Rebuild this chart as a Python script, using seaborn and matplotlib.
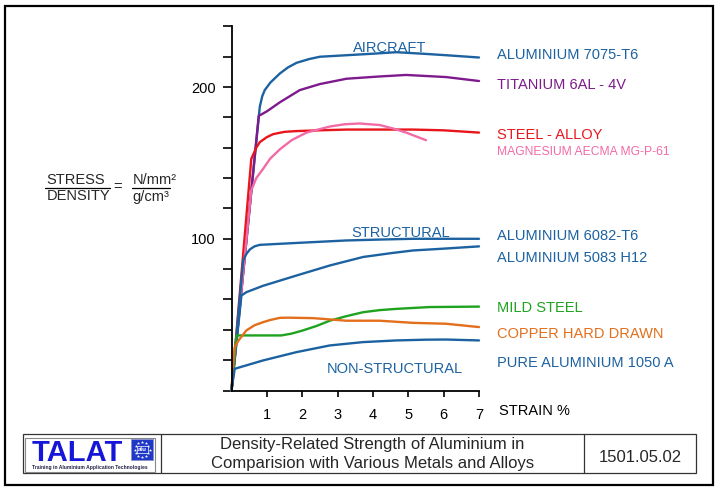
import numpy as np
import pandas as pd
import matplotlib
matplotlib.use("Agg")
import matplotlib.pyplot as plt
from matplotlib.patches import Rectangle
import seaborn as sns

# ---------------- data ----------------
al7075_x = [0, 0.8, 0.87, 0.94, 1.1, 1.37, 1.6, 1.84, 2.2, 2.5, 3.25, 4.0, 4.66, 5.4, 6.07, 7.0]
al7075_y = [0, 187, 194, 198, 203, 209, 213, 216, 218.5, 220, 221, 222, 223, 222, 221, 219.5]

ti_x = [0, 0.77, 1.0, 1.37, 1.93, 2.5, 3.25, 4.19, 4.94, 6.07, 7.0]
ti_y = [0, 181, 184, 190, 198, 202, 205.5, 207, 208, 206.6, 204]

steel_x = [0, 0.56, 0.7, 0.8, 1.0, 1.18, 1.5, 1.84, 2.5, 3.25, 4.2, 5.13, 6.0, 7.0]
steel_y = [0, 152.7, 160, 163.7, 167, 169, 170.5, 171, 171.5, 172, 172, 172, 171.5, 170]

mg_x = [0, 0.56, 0.7, 0.89, 1.1, 1.37, 1.7, 2.12, 2.78, 3.2, 3.62, 4.19, 4.6, 4.94, 5.5]
mg_y = [0, 132, 140, 146, 153, 159, 165, 170, 174, 175.5, 176, 175, 172.5, 170, 165]

al6082_x = [0, 0.33, 0.42, 0.52, 0.65, 0.8, 1.37, 2.3, 3.25, 4.2, 5.13, 6.0, 7.0]
al6082_y = [0, 85.7, 90, 93, 95, 96, 96.7, 97.8, 98.9, 99.5, 100, 100, 100]

al5083_x = [0, 0.28, 0.42, 0.89, 1.84, 2.78, 3.72, 4.5, 5.13, 6.0, 7.0]
al5083_y = [0, 62.6, 64.8, 69, 75.8, 82.4, 88, 90.5, 92.3, 93.5, 95]

mild_x = [0, 0.14, 1.41, 1.7, 2.02, 2.4, 2.78, 3.25, 3.72, 4.2, 4.66, 5.6, 7.0]
mild_y = [0, 36.3, 36.3, 37.5, 39.6, 42.5, 46, 49, 51.6, 53, 53.8, 55, 55.3]

cu_x = [0, 0.04, 0.09, 0.2, 0.42, 0.65, 0.89, 1.1, 1.37, 1.6, 2.31, 3.25, 4.19, 5.13, 6.07, 7.0]
cu_y = [0, 15, 28.6, 33, 39.6, 43, 45, 46.5, 47.9, 48, 47.7, 46, 46, 44.6, 44, 41.8]

al1050_x = [0, 0.09, 0.89, 1.84, 2.78, 3.72, 4.66, 5.5, 6.07, 7.0]
al1050_y = [0, 14.3, 19.8, 25.3, 29.7, 31.9, 33, 33.5, 33.6, 33]

series_names = ["ALUMINIUM 7075-T6", "TITANIUM 6AL - 4V", "STEEL - ALLOY",
                "MAGNESIUM AECMA MG-P-61", "ALUMINIUM 6082-T6", "ALUMINIUM 5083 H12",
                "MILD STEEL", "COPPER HARD DRAWN", "PURE ALUMINIUM 1050 A"]
series_x = [al7075_x, ti_x, steel_x, mg_x, al6082_x, al5083_x, mild_x, cu_x, al1050_x]
series_y = [al7075_y, ti_y, steel_y, mg_y, al6082_y, al5083_y, mild_y, cu_y, al1050_y]

x_ticks = [1, 2, 3, 4, 5, 6, 7]
y_ticks = list(range(0, 241, 20))
y_labelled = [100, 200]

group_labels = ["AIRCRAFT", "STRUCTURAL", "NON-STRUCTURAL"]
group_pos_x = [4.48, 4.79, 4.62]
group_pos_y = [225.8, 103.8, 14.2]

# ---------------- style ----------------
BLUE = "#1c62a1"
colors = [BLUE, "#7d1a8c", "#e8161c", "#f26aa6", BLUE, BLUE, "#1fa31f", "#e36f1c", BLUE]

sns.set_style("ticks")
plt.rcParams["font.family"] = ["Liberation Sans", "DejaVu Sans"]

W, H = 717, 492
fig = plt.figure(figsize=(W / 100, H / 100), dpi=100)

# main axes in pixel geometry
x0, x1 = 231.5, 479.0
yb, yt = 390.5, 26.4
ax = fig.add_axes([x0 / W, 1 - yb / H, (x1 - x0) / W, (yb - yt) / H])

frames = []
for name, xs, ys in zip(series_names, series_x, series_y):
    frames.append(pd.DataFrame({"strain": xs, "value": ys, "series": name}))
df = pd.concat(frames, ignore_index=True)

sns.lineplot(data=df, x="strain", y="value", hue="series", hue_order=series_names,
             palette=dict(zip(series_names, colors)), estimator=None, sort=False,
             units="series", linewidth=1.7, legend=False, ax=ax, clip_on=False)

ax.set_xlim(0, 7)
ax.set_ylim(0, 240)
ax.set_xlabel("")
ax.set_ylabel("")
ax.set_xticks(x_ticks)
ax.set_xticklabels([str(t) for t in x_ticks], fontsize=10.5)
ax.set_yticks(y_ticks)
ax.set_yticklabels([str(t) if t in y_labelled else "" for t in y_ticks], fontsize=10.5)
for s in ["top", "right"]:
    ax.spines[s].set_visible(False)
for s in ["left", "bottom"]:
    ax.spines[s].set_linewidth(1.3)
    ax.spines[s].set_color("black")
ax.tick_params(axis="y", direction="out", length=6.5, width=1.2, pad=5, colors="black")
ax.tick_params(axis="x", direction="out", length=4.3, width=1.2, pad=8, colors="black")
ax.patch.set_alpha(0)

for lab, gx, gy in zip(group_labels, group_pos_x, group_pos_y):
    ax.text(gx, gy, lab, color=BLUE, fontsize=10.5, ha="center", va="center")

# ---------------- overlay (pixel coordinates) ----------------
ov = fig.add_axes([0, 0, 1, 1], zorder=-1)
ov.set_xlim(0, W)
ov.set_ylim(H, 0)
ov.axis("off")

# outer frame
ov.add_patch(Rectangle((5, 6), 708, 479, fill=False, ec="black", lw=1.6))

# right-hand labels
label_y = [55, 85, 135, 152, 236, 258, 308, 334, 363]
for name, c, ly in zip(series_names, colors, label_y):
    fs = 8.7 if name.startswith("MAGNESIUM") else 10.5
    ov.text(497, ly, name, color=c, fontsize=fs, ha="left", va="center")
ov.text(499, 411, "STRAIN %", color="black", fontsize=10.5, ha="left", va="center")

# left label: STRESS/DENSITY = N/mm²/g/cm³
ov.text(76, 180, "STRESS", fontsize=10.5, ha="center", va="center")
ov.text(79, 196.5, "DENSITY", fontsize=10.5, ha="center", va="center")
ov.plot([45, 110], [188, 188], color="black", lw=0.9)
ov.text(118, 187, "=", fontsize=10.5, ha="center", va="center")
ov.text(155, 179.5, "N/mm²", fontsize=10.5, ha="center", va="center")
ov.text(151, 196.5, "g/cm³", fontsize=10.5, ha="center", va="center")
ov.plot([132, 170], [188, 188], color="black", lw=0.9)

# footer table
ov.add_patch(Rectangle((22.7, 434), 696 - 22.7, 39, fill=False, ec="#333333", lw=0.9))
ov.plot([161, 161], [434, 473], color="#333333", lw=0.9)
ov.plot([584, 584], [434, 473], color="#333333", lw=0.9)
ov.text(372.5, 444, "Density-Related Strength of Aluminium in", fontsize=12,
        ha="center", va="center")
ov.text(372.5, 463.5, "Comparision with Various Metals and Alloys", fontsize=12,
        ha="center", va="center")
ov.text(640, 458, "1501.05.02", fontsize=12, ha="center", va="center")

# TALAT logo
ov.add_patch(Rectangle((25, 437.5), 130, 34.5, fill=False, ec="#888888", lw=0.8))
ov.text(32, 461, "TALAT", fontsize=21, fontweight="bold", color="#1616d8",
        ha="left", va="baseline")
ov.add_patch(Rectangle((131, 439), 22, 21, fc="#2038c8", ec="#8890c8", lw=0.6))
ang = np.linspace(0, 2 * np.pi, 12, endpoint=False)
ov.scatter(142 + 7.5 * np.cos(ang), 449.5 + 7.5 * np.sin(ang), marker="*", s=6,
           color="white", linewidths=0)
ov.add_patch(Rectangle((136.5, 446), 11, 7, fc="#2038c8", ec="white", lw=0.5))
ov.text(142, 449.5, "alu", fontsize=4.5, color="white", ha="center", va="center",
        fontweight="bold")
ov.text(90, 468, "Training in Aluminium Application Technologies", fontsize=3.6,
        fontweight="bold", color="#222244", ha="center", va="center")

fig.savefig("out.png", dpi=100)
